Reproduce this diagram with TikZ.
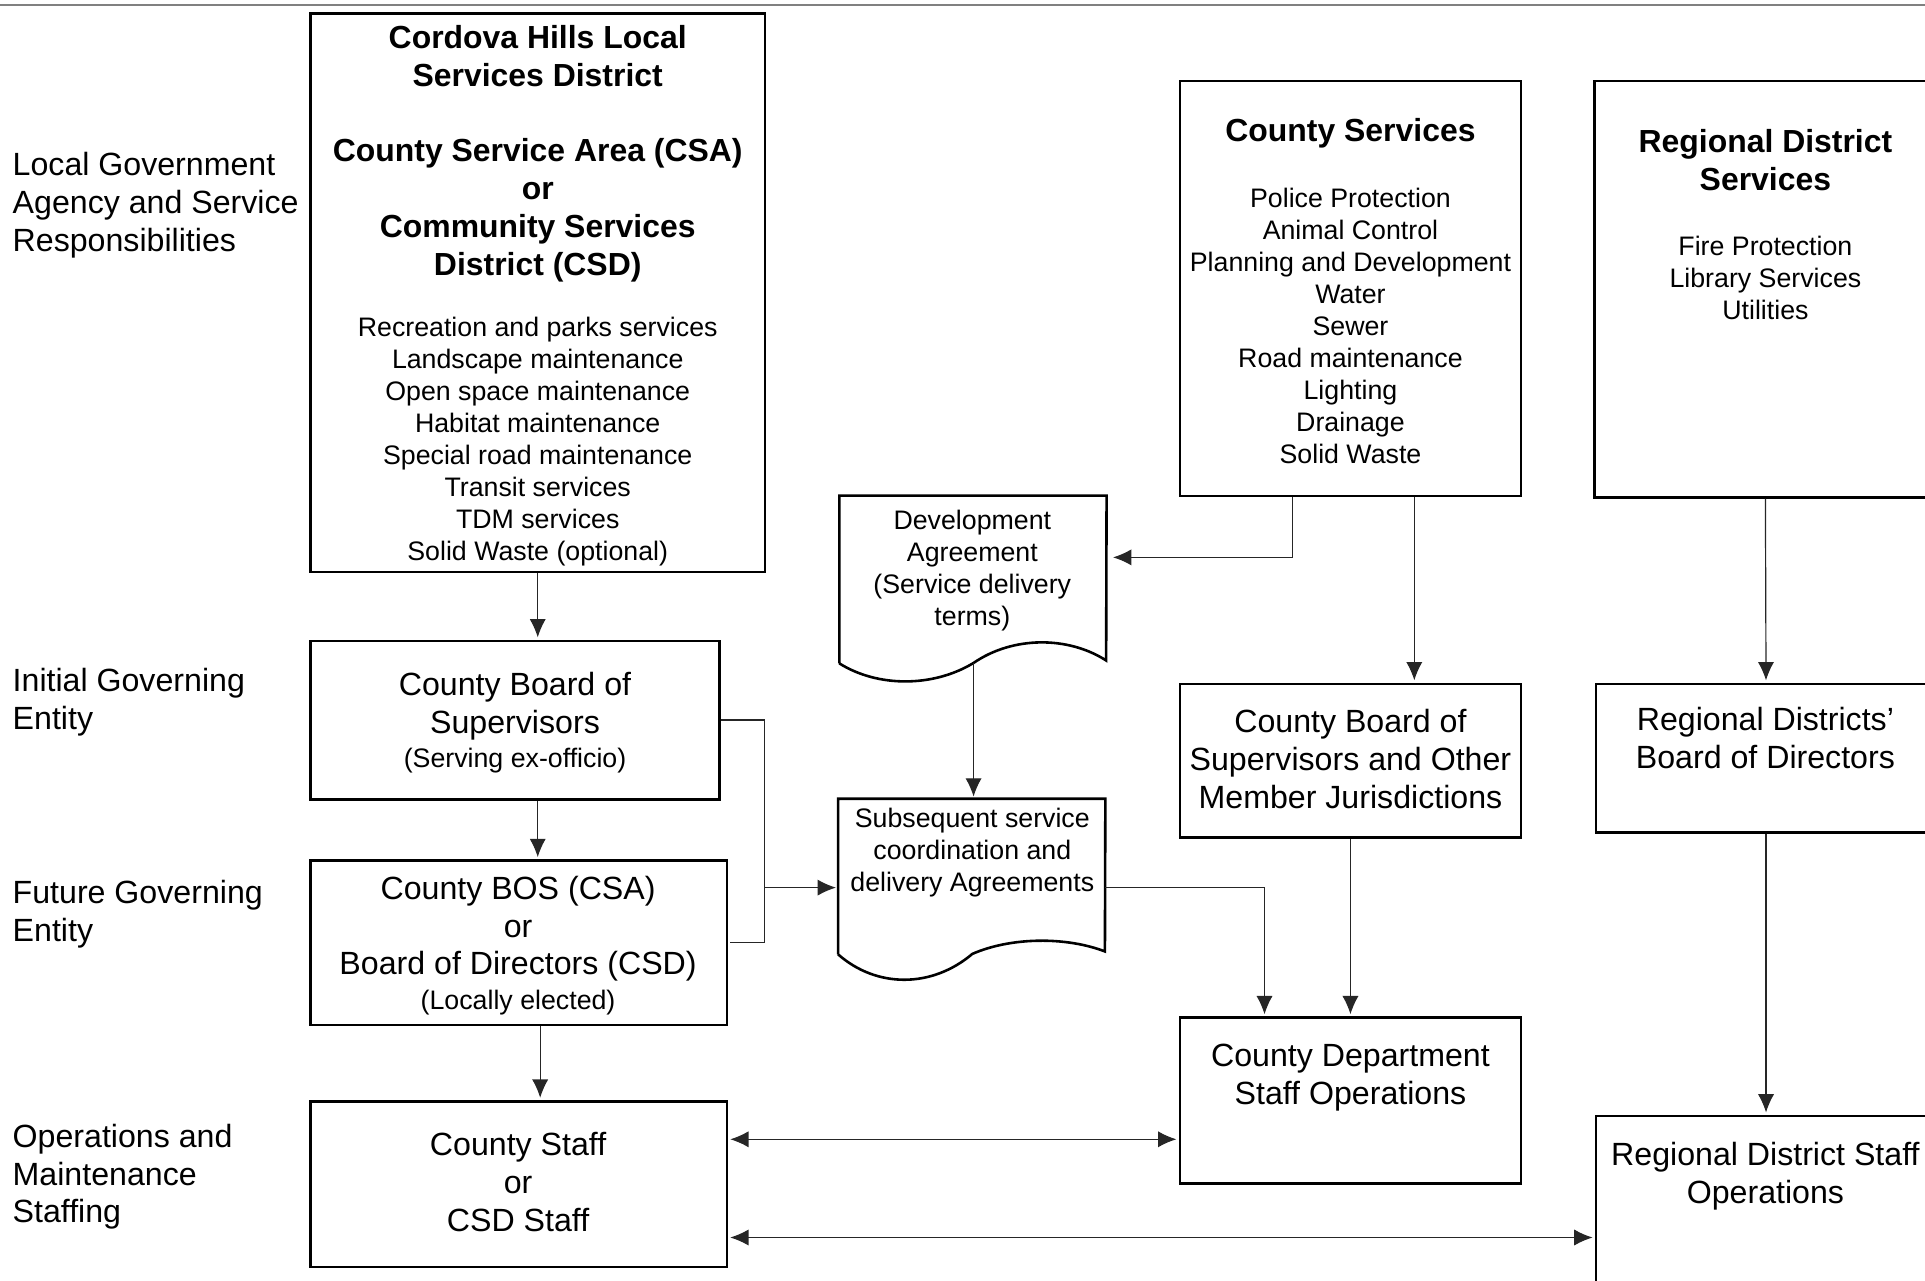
\documentclass[tikz,border=0pt]{standalone}
\usepackage{fontspec}
\setmainfont{Liberation Sans}
\usetikzlibrary{arrows.meta, positioning, fit}

\tikzset{
    box/.style={draw, line width=1.2pt, inner sep=0pt},
    link/.style={line width=0.55pt, draw=black!85, shorten >=1pt},
    big/.style={font=\fontsize{14.9}{17.6}\selectfont, align=center, inner sep=0pt},
    bigb/.style={font=\bfseries\fontsize{14.8}{17.6}\selectfont, align=center, inner sep=0pt},
    small/.style={font=\fontsize{12.4}{14.8}\selectfont, align=center, inner sep=0pt},
    rowlabel/.style={big, align=left, anchor=north west},
  }

\begin{document}
\begin{tikzpicture}[x=0.02cm, y=-0.02cm, >={Latex[length=8.5pt, width=7.5pt]}]
            \useasboundingbox (0,0) rectangle (1568,1043);
            \clip (0,0) rectangle (1568,1043);
            \draw[gray, line width=1pt] (0,4) -- (1568,4);

            % row labels
            \node[rowlabel] (lbllocal) at (10,124) {Local Government\\Agency and Service\\Responsibilities};
            \node[rowlabel] (lblinit) at (10,544) {Initial Governing\\Entity};
            \node[rowlabel] (lblfut) at (10,717) {Future Governing\\Entity};
            \node[rowlabel] (lblops) at (10,915) {Operations and\\Maintenance\\Staffing};

            % local district column
            \node[box, fit={(253,11) (623,466)}] (csa) {};
            \node[bigb, anchor=north] (csahead) at (438,20) {Cordova Hills Local\\Services District\\[17.6pt]County Service Area (CSA)\\or\\Community Services\\District (CSD)};
            \node[small, anchor=north] (csalist) at (438,258) {Recreation and parks services\\Landscape maintenance\\Open space maintenance\\Habitat maintenance\\Special road maintenance\\Transit services\\TDM services\\Solid Waste (optional)};
            \node[box, fit={(253,522) (586,651)}] (bos) {};
            \node[big, anchor=north] (bostext) at (419.5,547) {County Board of\\Supervisors};
            \node[small, anchor=north] (bosnote) at (419.5,609) {(Serving ex-officio)};
            \node[box, fit={(253,701) (592,835)}] (future) {};
            \node[big, anchor=north] (futuretext) at (422,713) {County BOS (CSA)\\or\\Board of Directors (CSD)};
            \node[small, anchor=north] (futurenote) at (422,806) {(Locally elected)};
            \node[box, fit={(253,897) (592,1032)}] (staff) {};
            \node[big, anchor=north] (stafftext) at (422,922) {County Staff\\or\\CSD Staff};

            % agreements
            \node[fit={(684,404) (901,540)}, inner sep=0pt] (devagr) {};
            \coordinate (devagrbot) at (793,540);
            \draw[box] (devagr.south west) -- (devagr.north west) -- (devagr.north east) -- (901,538)
                .. controls (870,518) and (825,518) .. (devagrbot)
                .. controls (760,560) and (715,560) .. (devagr.south west);
            \node[small, anchor=north] (devagrtext) at (792,415) {Development\\Agreement\\(Service delivery\\terms)};
            \node[fit={(683,651) (900,777)}, inner sep=0pt] (subseq) {};
            \draw[box] (subseq.south west) -- (subseq.north west) -- (subseq.north east) -- (900,775)
                .. controls (869,763) and (824,763) .. (792,777)
                .. controls (759,805) and (714,805) .. (subseq.south west);
            \node[small, anchor=north] (subseqtext) at (792,658) {Subsequent service\\coordination and\\delivery Agreements};

            % county column
            \node[box, fit={(961,66) (1239,404)}] (cosvc) {};
            \node[bigb, anchor=north] (cosvchead) at (1100,96) {County Services};
            \node[small, anchor=north] (cosvclist) at (1100,153) {Police Protection\\Animal Control\\Planning and Development\\Water\\Sewer\\Road maintenance\\Lighting\\Drainage\\Solid Waste};
            \node[box, fit={(961,557) (1239,682)}] (cobos) {};
            \node[big, anchor=north] (cobostext) at (1100,577) {County Board of\\Supervisors and Other\\Member Jurisdictions};
            \node[box, fit={(961,829) (1239,964)}] (codept) {};
            \node[big, anchor=north] (codepttext) at (1100,850) {County Department\\Staff Operations};

            % regional column
            \node[box, fit={(1299,66) (1577,405)}] (regsvc) {};
            \node[bigb, anchor=north] (regsvchead) at (1438,105) {Regional District\\Services};
            \node[small, anchor=north] (regsvclist) at (1438,192) {Fire Protection\\Library Services\\Utilities};
            \node[box, fit={(1300,557) (1577,678)}] (regbod) {};
            \node[big, anchor=north] (regbodtext) at (1438,576) {Regional Districts’\\Board of Directors};
            \node[box, fit={(1300,909) (1577,1100)}] (regstaff) {};
            \node[big, anchor=north] (regstafftext) at (1438,930) {Regional District Staff\\Operations};

            % connectors
            \coordinate (xc) at (440,0);
            \coordinate (brk) at (623,723);
            \coordinate (xd) at (1053,0);
            \coordinate (yd) at (0,454);
            \coordinate (xe) at (1152,0);
            \coordinate (xf) at (1030,0);
            \coordinate (yg) at (0,928);
            \coordinate (yh) at (0,1008);
            \draw[link, ->] (csa.south) -- (csa.south |- bos.north);
            \draw[link, ->] (bos.south -| csa.south) -- (future.north -| csa.south);
            \draw[link, ->] (future.south -| xc) -- (staff.north -| xc);
            \draw[link] (bos.east) -| (brk) |- (future.east);
            \draw[link, ->] (brk) -- (brk -| subseq.west);
            \draw[link, ->, shorten >=3pt] (cosvc.south -| xd) |- (devagr.east |- yd);
            \draw[link, ->] (devagrbot) -- (devagrbot |- subseq.north);
            \draw[link, ->] (cosvc.south -| xe) -- (cobos.north -| xe);
            \draw[link, ->] (cobos.south) -- (codept.north);
            \draw[link, ->] (brk -| subseq.east) -| (codept.north -| xf);
            \draw[link, ->] (regsvc.south) -- (regbod.north);
            \draw[link, ->] (regbod.south) -- (regstaff.north);
            \draw[link, <->, shorten <=1pt] (staff.east |- yg) -- (codept.west |- yg);
            \draw[link, <->, shorten <=1pt] (staff.east |- yh) -- (regstaff.west |- yh);
        \end{tikzpicture}
\end{document}
